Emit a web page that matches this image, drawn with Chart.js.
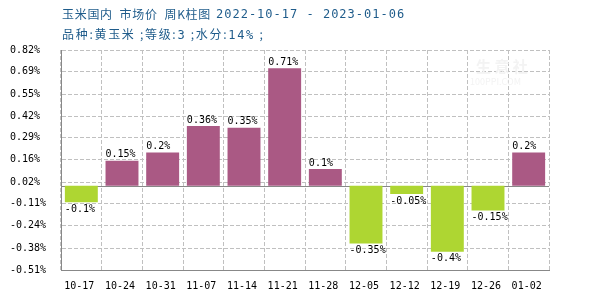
<!DOCTYPE html>
<html>
<head>
<meta charset="utf-8">
<script src="https://cdn.jsdelivr.net/npm/chart.js@4"></script>
<style>
  body { margin: 0; background: #fff; }
  #wrap { position: relative; width: 600px; height: 300px; }
  #chart { position: absolute; left: 0; top: 0; }
  .ttl { position: absolute; color: #1f5c8b; font-family: "Noto Sans CJK SC", sans-serif; font-size: 12px; white-space: pre; line-height: 14px; }
  .mono { font-family: "DejaVu Sans Mono", monospace; font-size: 12px; }
  .wm { position: absolute; color: #f3f3f3; font-family: "Noto Sans CJK SC", sans-serif; white-space: pre; }
</style>
</head>
<body>
<div id="wrap">
  <canvas id="chart" width="600" height="300"></canvas>
  <div class="ttl" style="top:7px; left:62px; letter-spacing:0.7px">玉米国内  市场价  周K柱图</div>
  <div class="ttl mono" style="top:7px; left:216px; letter-spacing:1px">2022-10-17 - 2023-01-06</div>
  <div class="ttl" style="top:27px; left:62px; letter-spacing:1.7px">品种:黄玉米 ;等级:<span class="mono">3</span> ;水分:<span class="mono">14%</span> ;</div>
  <div class="wm" style="left:476px; top:55px; font-size:15px; font-weight:bold">生 意 社</div>
  <div class="wm" style="left:470px; top:75px; font-size:9px">100PPI.COM</div>
</div>
<script>
// 玉米国内 周K柱图 — weekly change, %

const weeks = ['10-17', '10-24', '10-31', '11-07', '11-14', '11-21', '11-28', '12-05', '12-12', '12-19', '12-26', '01-02'];
const changes = [-0.1, 0.15, 0.2, 0.36, 0.35, 0.71, 0.1, -0.35, -0.05, -0.4, -0.15, 0.2];
const yTicks = [-0.51, -0.38, -0.24, -0.11, 0.02, 0.16, 0.29, 0.42, 0.55, 0.69, 0.82];

const COLORS = {
  up: '#aa5984',
  down: '#aed632',
  grid: '#c0c0c0',
  axis: '#888888',
  text: '#000000',
};
const MONO = "'DejaVu Sans Mono', monospace";

// solid line at zero, under the bars
const zeroLine = {
  id: 'zeroLine',
  beforeDatasetsDraw(chart) {
    const { ctx, chartArea, scales: { y } } = chart;
    const py = Math.round(y.getPixelForValue(0)) + 0.5;
    ctx.save();
    ctx.strokeStyle = COLORS.axis;
    ctx.lineWidth = 1;
    ctx.beginPath();
    ctx.moveTo(chartArea.left, py);
    ctx.lineTo(chartArea.right, py);
    ctx.stroke();
    ctx.restore();
  },
};

// value labels, left aligned to the bar, above up bars and under down bars
const barLabels = {
  id: 'barLabels',
  afterDatasetsDraw(chart) {
    const { ctx } = chart;
    const meta = chart.getDatasetMeta(0);
    ctx.save();
    ctx.font = '10px ' + MONO;
    ctx.fillStyle = COLORS.text;
    ctx.textAlign = 'left';
    meta.data.forEach((bar, i) => {
      const v = changes[i];
      const x = bar.x - bar.width / 2;
      if (v >= 0) {
        ctx.textBaseline = 'bottom';
        ctx.fillText(v + '%', x, bar.y - 1);
      } else {
        ctx.textBaseline = 'top';
        ctx.fillText(v + '%', x, bar.y + 2);
      }
    });
    ctx.restore();
  },
};

new Chart(document.getElementById('chart'), {
  type: 'bar',
  data: {
    labels: weeks,
    datasets: [{
      data: changes,
      backgroundColor: changes.map(v => v >= 0 ? COLORS.up : COLORS.down),
      barPercentage: 0.81,
      categoryPercentage: 1,
      borderWidth: 0,
    }],
  },
  options: {
    responsive: false,
    animation: false,
    layout: { padding: { left: 10, right: 51, top: 50, bottom: 0 } },
    plugins: { legend: { display: false }, tooltip: { enabled: false } },
    scales: {
      x: {
        afterFit: s => { s.height = 30; },
        grid: { color: COLORS.grid, drawTicks: false, offset: true },
        border: { display: true, color: COLORS.axis, dash: [4, 2] },
        ticks: { color: COLORS.text, font: { family: MONO, size: 10 }, padding: 10, labelOffset: -2, maxRotation: 0, autoSkip: false },
      },
      y: {
        min: -0.51,
        max: 0.82,
        afterFit: s => { s.width = 51; },
        afterBuildTicks: s => { s.ticks = yTicks.map(v => ({ value: v })); },
        grid: { color: COLORS.grid, drawTicks: false },
        border: { display: true, color: COLORS.axis, dash: [4, 2] },
        ticks: { color: COLORS.text, font: { family: MONO, size: 10 }, crossAlign: 'far', callback: v => v.toFixed(2) + '%' },
      },
    },
  },
  plugins: [zeroLine, barLabels],
});
</script>
</body>
</html>
